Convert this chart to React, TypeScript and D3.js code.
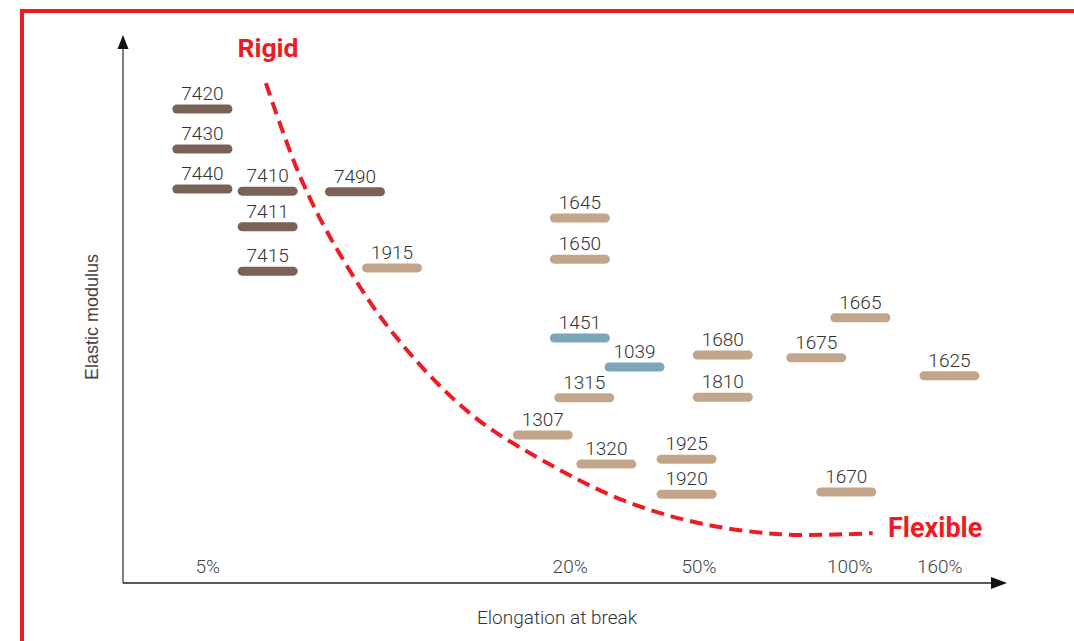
import React, { useEffect, useRef } from 'react';
import * as d3 from 'd3';

// schematic positions, 0-100 along each axis
const grades = ['7420', '7430', '7440', '7410', '7411', '7415', '7490', '1915', '1645', '1650', '1451', '1039', '1315', '1307', '1320', '1925', '1920', '1680', '1810', '1675', '1665', '1625', '1670'];
const elongation = [9.0, 9.0, 9.0, 16.4, 16.4, 16.4, 26.3, 30.5, 51.8, 51.8, 51.8, 58.0, 52.3, 47.6, 54.8, 63.9, 63.9, 68.0, 68.0, 78.6, 83.6, 93.7, 82.0];
const modulus = [86.5, 79.2, 71.9, 71.5, 65.0, 56.9, 71.4, 57.5, 66.6, 59.1, 44.7, 39.4, 33.8, 27.0, 21.7, 22.6, 16.2, 41.6, 33.9, 41.1, 48.4, 37.8, 16.6];
const family = ['dark', 'dark', 'dark', 'dark', 'dark', 'dark', 'dark', 'tan', 'tan', 'tan', 'blue', 'blue', 'tan', 'tan', 'tan', 'tan', 'tan', 'tan', 'tan', 'tan', 'tan', 'tan', 'tan'];

const tickLabels = ['5%', '20%', '50%', '100%', '160%'];
const tickPos = [9.6, 50.7, 65.3, 82.4, 92.6];

// the rigid -> flexible trend line
const trendX = [16.2, 20.1, 24.3, 30.6, 39.3, 48.1, 56.7, 65.4, 74.5, 82.1, 85.0];
const trendY = [91.2, 74.1, 60.8, 45.6, 31.0, 21.9, 15.1, 10.9, 8.9, 8.9, 9.1];

const colors: Record<string, string> = { dark: '#7a6256', tan: '#c3a58a', blue: '#7ca6b8' };
const RED = '#ed1c24';

export default function App() {
  const svgRef = useRef<SVGSVGElement>(null);

  useEffect(() => {
    if (!svgRef.current) return;
    const width = 1074;
    const height = 641;
    const left = 123, right = 1005, top = 35, bottom = 583;

    const svg = d3.select(svgRef.current);
    svg.selectAll('*').remove();
    svg.attr('width', width).attr('height', height);

    const x = d3.scaleLinear().domain([0, 100]).range([left, right]);
    const y = d3.scaleLinear().domain([0, 100]).range([bottom, top]);

    // frame
    svg.append('rect')
      .attr('x', 22).attr('y', 11)
      .attr('width', width).attr('height', height)
      .attr('fill', 'none')
      .attr('stroke', RED)
      .attr('stroke-width', 4);

    // axes with arrows
    svg.append('line')
      .attr('x1', left).attr('y1', bottom)
      .attr('x2', left).attr('y2', top + 10)
      .attr('stroke', '#555').attr('stroke-width', 1.5);
    svg.append('path')
      .attr('d', `M${left},${top} L${left - 5.5},${top + 14} L${left + 5.5},${top + 14} Z`)
      .attr('fill', '#111');

    svg.append('line')
      .attr('x1', left).attr('y1', bottom)
      .attr('x2', right - 10).attr('y2', bottom)
      .attr('stroke', '#222').attr('stroke-width', 1.5);
    svg.append('path')
      .attr('d', `M${right + 2},${bottom} L${right - 14},${bottom - 6} L${right - 14},${bottom + 6} Z`)
      .attr('fill', '#111');

    // tick labels
    svg.append('g')
      .selectAll('text')
      .data(tickLabels)
      .join('text')
      .attr('x', (_, i) => x(tickPos[i]))
      .attr('y', bottom - 10)
      .attr('text-anchor', 'middle')
      .attr('font-family', 'Roboto, sans-serif')
      .attr('font-weight', 300)
      .attr('font-size', 19)
      .attr('fill', '#444')
      .text(d => d);

    svg.append('text')
      .attr('x', 557).attr('y', 624)
      .attr('text-anchor', 'middle')
      .attr('font-family', 'Roboto, sans-serif')
      .attr('font-weight', 300)
      .attr('font-size', 19)
      .attr('fill', '#333')
      .text('Elongation at break');

    svg.append('text')
      .attr('transform', `translate(98, 317) rotate(-90)`)
      .attr('text-anchor', 'middle')
      .attr('font-family', '"Liberation Sans", Arial, sans-serif')
      .attr('font-size', 18)
      .attr('fill', '#444')
      .text('Elastic modulus');

    // dashed trend curve
    const line = d3.line<number>()
      .x(d => x(trendX[d]))
      .y(d => y(trendY[d]))
      .curve(d3.curveCatmullRom.alpha(0.5));

    svg.append('path')
      .attr('d', line(d3.range(trendX.length)))
      .attr('fill', 'none')
      .attr('stroke', RED)
      .attr('stroke-width', 4)
      .attr('stroke-dasharray', '13 7');

    svg.append('text')
      .attr('x', 268).attr('y', 57)
      .attr('text-anchor', 'middle')
      .attr('font-family', 'Roboto, sans-serif')
      .attr('font-weight', 700)
      .attr('font-size', 26.5)
      .attr('fill', RED)
      .text('Rigid');

    svg.append('text')
      .attr('x', 888).attr('y', 537)
      .attr('font-family', 'Roboto, sans-serif')
      .attr('font-weight', 700)
      .attr('font-size', 27)
      .attr('fill', RED)
      .text('Flexible');

    // grade bars
    const barW = 60, barH = 9;
    const marks = svg.append('g')
      .selectAll('g')
      .data(grades)
      .join('g')
      .attr('transform', (_, i) => `translate(${x(elongation[i])}, ${y(modulus[i])})`);

    marks.append('rect')
      .attr('x', -barW / 2).attr('y', -barH / 2)
      .attr('width', barW).attr('height', barH)
      .attr('rx', barH / 2)
      .attr('fill', (_, i) => colors[family[i]]);

    marks.append('text')
      .attr('y', -9)
      .attr('text-anchor', 'middle')
      .attr('font-family', 'Roboto, sans-serif')
      .attr('font-weight', 300)
      .attr('font-size', 19)
      .attr('fill', '#333')
      .text(d => d);
  }, []);

  return (
    <div style={{ position: 'absolute', left: 0, top: 0 }}>
      <svg ref={svgRef} style={{ display: 'block' }}></svg>
    </div>
  );
}
